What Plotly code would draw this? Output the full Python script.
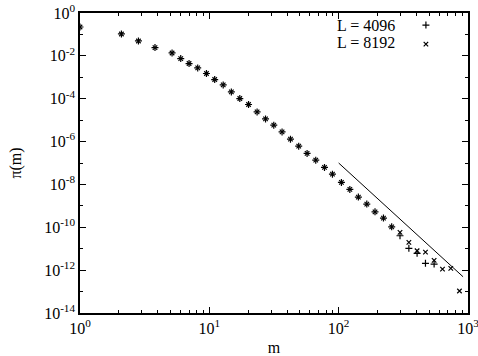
import plotly.graph_objects as go

# m values (bin centres)
m_all = [1, 2.09, 2.83, 3.80, 5.15, 6.01, 6.97, 8.13, 9.50, 11.0, 12.8, 14.8, 17.2,
         20.1, 23.4, 27.2, 31.5, 36.5, 42.4, 49.1, 57.0, 66.5, 77.7, 89.5, 105, 122,
         142, 165, 191, 222, 257, 298, 349, 404, 469, 547, 635, 736, 859]

common = [0.222, 0.105, 0.0495, 0.0244, 0.01365, 7.48e-3, 4.38e-3, 2.73e-3, 1.50e-3,
          7.85e-4, 4.40e-4, 2.07e-4, 1.02e-4, 5.37e-5, 2.43e-5, 1.14e-5, 5.82e-6,
          2.83e-6, 1.29e-6, 6.11e-7, 2.79e-7, 1.36e-7, 6.21e-8, 3.02e-8, 1.24e-8,
          5.85e-9, 2.56e-9, 1.21e-9, 5.28e-10, 2.69e-10, 1.05e-10]

tail_4096 = [4.02e-11, 1.04e-11, 6.07e-12, 2.07e-12, 1.92e-12]
tail_8192 = [5.78e-11, 1.98e-11, 8.02e-12, 6.98e-12, 2.86e-12, 1.12e-12, 1.21e-12, 1.06e-13]

pi_4096 = common + tail_4096
pi_8192 = common + tail_8192
m_4096 = m_all[:len(pi_4096)]
m_8192 = m_all[:len(pi_8192)]

line_m = [100, 916]
line_pi = [1.0e-7, 4.9e-13]

legend_labels = ["L = 4096", "L = 8192"]

x_exp = [0, 1, 2, 3]
y_exp = [0, -2, -4, -6, -8, -10, -12, -14]

font = "Liberation Serif"

x_tickvals = [10.0 ** e for e in x_exp]
x_ticktext = ["10<sup>%d</sup>" % e for e in x_exp]
y_tickvals = [10.0 ** e for e in y_exp]
y_ticktext = ["10<sup>%d</sup>" % e for e in y_exp]
x_minor = [k * 10.0 ** e for e in x_exp[:-1] for k in range(2, 10)]
y_minor = [10.0 ** (e - 1) for e in y_exp[:-1]]

fig = go.Figure()
fig.add_trace(go.Scatter(x=line_m, y=line_pi, mode="lines",
                         line=dict(color="black", width=1), showlegend=False))
fig.add_trace(go.Scatter(x=m_4096, y=pi_4096, mode="markers", name=" ",
                         marker=dict(symbol="cross-thin", size=5,
                                     line=dict(color="black", width=1.2), color="black")))
fig.add_trace(go.Scatter(x=m_8192, y=pi_8192, mode="markers", name="  ",
                         marker=dict(symbol="x-thin", size=4.5,
                                     line=dict(color="black", width=1.2), color="black")))

axis_common = dict(showgrid=False, zeroline=False, showline=True, linecolor="black",
                   linewidth=1.5, mirror="allticks", ticks="inside", tickcolor="black",
                   ticklen=6, tickwidth=1, tickmode="array", automargin=False,
                   ticklabeloverflow="allow",
                   tickfont=dict(family=font, size=16, color="black"))

fig.update_xaxes(type="log", range=[0, 3], tickvals=x_tickvals, ticktext=x_ticktext,
                 minor=dict(ticks="inside", ticklen=3, tickvals=x_minor, tickcolor="black", showgrid=False),
                 title=dict(text="m", font=dict(family=font, size=16, color="black"), standoff=16),
                 **axis_common)
fig.update_yaxes(type="log", range=[-14, 0], tickvals=y_tickvals, ticktext=y_ticktext,
                 minor=dict(ticks="inside", ticklen=3, tickvals=y_minor, tickcolor="black", showgrid=False),
                 title=dict(text="π(m)", font=dict(family=font, size=16, color="black"), standoff=19),
                 **axis_common)

for i, lab in enumerate(legend_labels):
    fig.add_annotation(text=lab, xref="paper", yref="paper", x=0.817, y=0.958 - i * 0.055,
                       xanchor="right", yanchor="middle", showarrow=False,
                       font=dict(family=font, size=16, color="black"))

fig.update_layout(width=478, height=356, margin=dict(l=80, r=10, t=13, b=43),
                  template="none",
                  plot_bgcolor="white", paper_bgcolor="white",
                  legend=dict(x=0.84, y=1.008, xanchor="left", yanchor="top",
                              font=dict(family=font, size=10, color="black"),
                              bgcolor="rgba(0,0,0,0)", itemwidth=30,
                              tracegroupgap=0))
fig.write_html("out.html")
